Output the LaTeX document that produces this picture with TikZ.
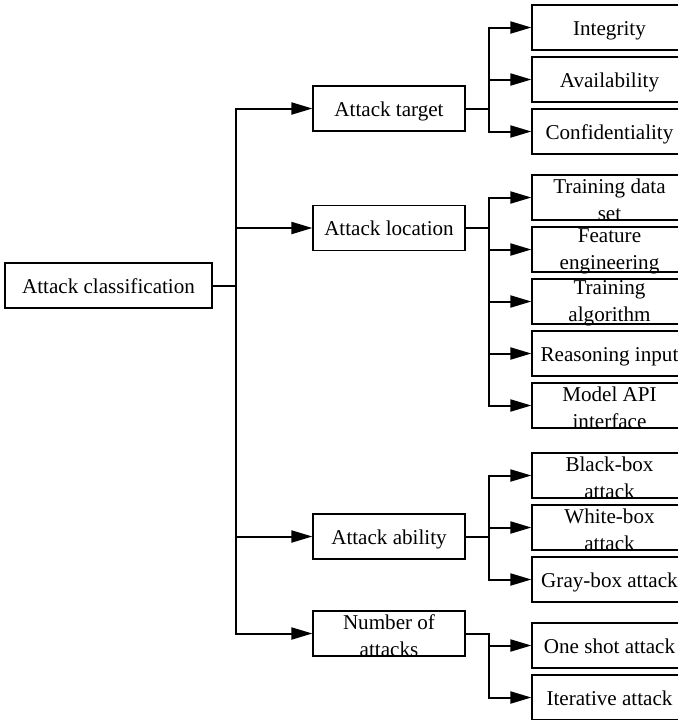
\documentclass[tikz,border=0pt]{standalone}
\usepackage{fontspec}
\setmainfont{Liberation Serif}
\usetikzlibrary{positioning, arrows.meta}

\begin{document}
\begin{tikzpicture}[
		node distance=26pt,
		on grid,
		font=\fontsize{10.55}{13.5}\selectfont,
		box/.style={
			draw,
			line width=0.6pt,
			minimum height=22.5pt,
			inner sep=0pt,
			text height=7.5pt,
			text depth=0pt
		},
		root/.style={box, minimum width=103.5pt},
		category/.style={box, minimum width=76pt},
		leaf/.style={box, minimum width=77.5pt},
		twoline/.style={
			label={[align=center, inner sep=0pt, yshift=-1pt]center:#1}
		},
		link/.style={
			line width=1pt,
			-{Triangle[length=10.5pt, width=6pt]}
		}
	]
	\useasboundingbox (0,0) rectangle (339pt,-360pt);

	% Root
	\node[root] (cls) at (54.25pt,-142.75pt) {Attack classification};

	% Categories
	\node[category] (tgt) [above right=88.5pt and 140.25pt of cls] {Attack target};
	\node[category] (loc) [above right=28.75pt and 140.25pt of cls] {Attack location};
	\node[category] (abl) [below right=125.5pt and 140.25pt of cls] {Attack ability};
	\node[category, twoline={Number of\\attacks}] (num) [below right=174pt and 140.25pt of cls] {};

	% Leaves
	\node[leaf] (integ) [above right=40.5pt and 110.25pt of tgt] {Integrity};
	\node[leaf] (avail) [below=of integ] {Availability};
	\node[leaf] (conf) [below=of avail] {Confidentiality};

	\node[leaf, twoline={Training data\\set}] (tds) [above right=15.25pt and 110.25pt of loc] {};
	\node[leaf, twoline={Feature\\engineering}] (feat) [below=of tds] {};
	\node[leaf, twoline={Training\\algorithm}] (talg) [below=of feat] {};
	\node[leaf] (rinp) [below=of talg] {Reasoning input};
	\node[leaf, twoline={Model API\\interface}] (api) [below=of rinp] {};

	\node[leaf, twoline={Black-box\\attack}] (black) [above right=30.5pt and 110.25pt of abl] {};
	\node[leaf, twoline={White-box\\attack}] (white) [below=of black] {};
	\node[leaf] (gray) [below=of white] {Gray-box attack};

	\node[leaf] (once) [below right=6pt and 110.25pt of num] {One shot attack};
	\node[leaf] (iter) [below=of once] {Iterative attack};

	% Connections
	\foreach \c in {tgt,loc,abl,num}
		\draw[link] (cls.east) -- ++(11.5pt,0) |- (\c.west);
	\foreach \c in {integ,avail,conf}
		\draw[link] (tgt.east) -- ++(11.5pt,0) |- (\c.west);
	\foreach \c in {tds,feat,talg,rinp,api}
		\draw[link] (loc.east) -- ++(11.5pt,0) |- (\c.west);
	\foreach \c in {black,white,gray}
		\draw[link] (abl.east) -- ++(11.5pt,0) |- (\c.west);
	\foreach \c in {once,iter}
		\draw[link] (num.east) -- ++(11.5pt,0) |- (\c.west);
\end{tikzpicture}
\end{document}
